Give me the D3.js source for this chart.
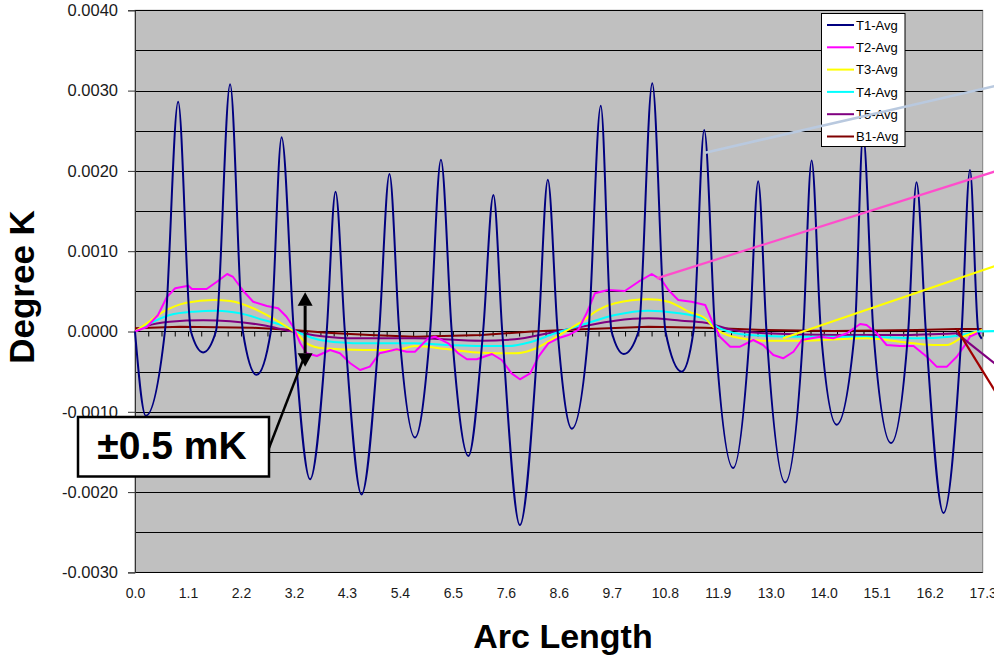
<!DOCTYPE html>
<html>
<head>
<meta charset="utf-8">
<script src="https://cdn.jsdelivr.net/npm/d3@7"></script>
<style>
  body { margin: 0; background: #fff; }
  svg { display: block; }
  text { font-family: Arial, "Liberation Sans", sans-serif; }
</style>
</head>
<body>
<div id="chart"></div>
<script>
// x axis category labels (arc length), one every 4 categories
const arcLabels = ["0.0","1.1","2.2","3.2","4.3","5.4","6.5","7.6","8.6","9.7","10.8","11.9","13.0","14.0","15.1","16.2","17.3"];
const arcStep = 1.0806;
const yTicks = [-0.003, -0.002, -0.001, 0, 0.001, 0.002, 0.003, 0.004];

const seriesNames = ["T1-Avg", "T2-Avg", "T3-Avg", "T4-Avg", "T5-Avg", "B1-Avg"];
const seriesColors = ["#000080", "#ff00ff", "#ffff00", "#00ffff", "#800080", "#800000"];

// T1 (read at peaks, troughs and zero crossings)
const t1Arc = [0.00,0.22,0.61,0.88,1.14,1.39,1.65,1.94,2.20,2.48,2.77,2.99,3.24,3.57,3.91,4.09,4.28,4.62,4.98,5.19,5.39,5.71,6.02,6.24,6.46,6.80,7.10,7.31,7.49,7.85,8.23,8.42,8.62,8.91,9.25,9.50,9.72,9.97,10.27,10.55,10.82,11.15,11.39,11.61,11.83,12.20,12.54,12.71,12.88,13.26,13.63,13.80,13.99,14.31,14.68,14.85,15.06,15.42,15.77,15.94,16.13,16.49,16.86,17.03,17.20,17.27];
const t1Val = [0,-0.00105,0,0.00286,0,-0.00026,0,0.00308,0,-0.00054,0,0.00242,0,-0.00184,0,0.00174,0,-0.00203,0,0.00196,0,-0.00132,0,0.00214,0,-0.00155,0,0.00170,0,-0.00241,0,0.00189,0,-0.00121,0,0.00281,0,-0.00028,0,0.00309,0,-0.00050,0,0.00251,0,-0.00170,0,0.00187,0,-0.00188,0,0.00213,0,-0.00116,0,0.00245,0,-0.00139,0,0.00186,0,-0.00226,0,0.00201,0,-0.00009];

const t2Arc = [0.00,0.24,0.47,0.65,0.82,1.09,1.16,1.46,1.67,1.88,2.00,2.21,2.41,2.69,2.92,3.09,3.23,3.37,3.50,3.71,3.98,4.18,4.39,4.59,4.79,4.99,5.34,5.54,5.71,5.98,6.12,6.39,6.59,6.77,6.97,7.28,7.48,7.68,7.85,8.06,8.23,8.43,8.63,8.84,9.04,9.21,9.38,9.65,9.99,10.27,10.54,10.74,10.88,11.08,11.35,11.63,11.79,11.93,12.14,12.34,12.61,12.81,13.02,13.22,13.43,13.60,13.97,14.24,14.52,14.79,14.92,15.13,15.33,15.60,15.88,16.15,16.35,16.56,16.76,16.93,17.03,17.19,17.27];
const t2Val = [0,0.000056,0.000205,0.00043,0.000538,0.00057,0.000529,0.000529,0.00062,0.000716,0.000679,0.000504,0.000371,0.000318,0.000289,0.000184,0.000056,-0.000147,-0.000271,-0.000305,-0.00023,-0.000271,-0.000396,-0.00048,-0.000438,-0.000271,-0.000222,-0.000252,-0.000252,-0.000085,-0.000065,-0.000147,-0.000271,-0.000346,-0.000346,-0.00028,-0.000355,-0.000521,-0.000595,-0.000521,-0.000314,-0.000147,-0.000085,-0.000044,0.000019,0.000227,0.000476,0.000517,0.000504,0.00062,0.000716,0.000641,0.000517,0.000392,0.000371,0.00033,0.000102,-0.000065,-0.000189,-0.000189,-0.000106,-0.000168,-0.000293,-0.000334,-0.000252,-0.000106,-0.000065,-0.000085,-0.000022,0.000093,0.000081,-0.000022,-0.000168,-0.000181,-0.000181,-0.000314,-0.000438,-0.000438,-0.000314,-0.000168,-0.000065,-0.000019,-0.00001];

const t3Arc = [0.00,0.24,0.58,1.05,1.60,1.94,2.41,2.75,3.09,3.30,3.50,3.84,4.66,5.34,5.71,6.39,7.07,7.75,8.09,8.43,8.77,9.11,9.45,9.79,10.47,10.88,11.29,11.63,11.79,12.20,12.88,13.56,14.92,15.60,16.28,16.56,16.89,17.17,17.28];
const t3Val = [0,0.000102,0.000247,0.000359,0.000392,0.00038,0.000289,0.000184,0.00006,-0.000022,-0.000147,-0.000209,-0.00023,-0.00023,-0.000181,-0.000222,-0.000264,-0.000271,-0.00023,-0.000127,-0.000002,0.000122,0.000268,0.000351,0.000401,0.000371,0.000247,0.000164,0.00006,-0.000065,-0.000115,-0.000115,-0.000085,-0.000127,-0.000168,-0.000168,-0.000065,-0.000002,0.00002];

const t4Arc = [0.00,0.24,0.71,1.19,1.67,2.14,2.62,3.09,3.37,3.77,4.45,5.71,6.38,7.07,7.61,8.09,8.57,9.11,9.79,10.47,11.01,11.63,11.93,12.54,13.56,14.92,15.94,16.62,17.17];
const t4Val = [0,0.000081,0.000205,0.000247,0.000259,0.000227,0.000143,0.00006,-0.000022,-0.000106,-0.000147,-0.000147,-0.000168,-0.000181,-0.000181,-0.000127,-0.000022,0.000081,0.000205,0.000259,0.000234,0.000152,0.00004,-0.000044,-0.000065,-0.000065,-0.000085,-0.000065,0];

const t5Arc = [0.00,0.24,0.71,1.39,1.94,2.62,3.16,3.77,4.45,5.71,7.07,7.75,8.43,9.11,9.79,10.47,11.15,11.63,12.20,12.88,14.24,15.60,16.76];
const t5Val = [0,0.000068,0.000122,0.000139,0.000127,0.000077,0.000006,-0.000056,-0.000085,-0.000085,-0.000115,-0.000097,-0.000022,0.00006,0.000134,0.000164,0.000134,0.00011,0.000019,-0.000022,-0.000044,-0.000044,-0.000022];

const b1Arc = [0.00,0.92,2.41,3.23,3.91,4.79,5.71,7.07,8.09,9.11,10.47,11.63,12.88,14.24,15.94,16.76,17.27];
const b1Val = [0.00004,0.00006,0.000047,0.000019,-0.000015,-0.000044,-0.000065,-0.000044,0,0.000027,0.00006,0.000047,0.000019,0.000006,0.000019,0.00003,0.00003];

// straight overflow lines that run off the right edge: [arcStart, valStart, arcEnd, valEnd]
const tailNames = ["blue", "T2", "T3", "T4", "T5", "B1"];
const tailColors = ["#b9c9df", "#ff4ccc", "#ffff00", "#00ffff", "#800080", "#a00000"];
const tailStart = [[11.63, 0.002227], [10.64, 0.000662], [13.22, -0.000085], [17.17, 0], [16.76, -0.000022], [16.76, 0.00003]];
const tailEnd = [[17.60, 0.003065], [17.60, 0.002005], [17.60, 0.000827], [17.60, 0.000006], [17.60, -0.00043], [17.60, -0.0008]];

const W = 994, H = 655;
const svg = d3.select("#chart").append("svg").attr("width", W).attr("height", H);

const x = d3.scaleLinear().domain([0, arcStep * 16]).range([135, 982.7]);
const y = d3.scaleLinear().domain([-0.003, 0.004]).range([572.4, 10.3]);

// plot area
svg.append("rect").attr("x", x(0)).attr("y", y(0.004))
  .attr("width", x(arcStep * 16) - x(0)).attr("height", y(-0.003) - y(0.004))
  .attr("fill", "#c0c0c0").attr("stroke", "#808080").attr("stroke-width", 1);

// gridlines every 0.0005
svg.append("g").selectAll("line").data(d3.range(-6, 9).map(k => k * 0.0005)).join("line")
  .attr("x1", x(0)).attr("x2", x(arcStep * 16))
  .attr("y1", d => Math.round(y(d)) + 0.5).attr("y2", d => Math.round(y(d)) + 0.5)
  .attr("stroke", "#000").attr("stroke-width", 1);

// y axis
const yAxis = svg.append("g").attr("transform", `translate(${x(0)},0)`)
  .call(d3.axisLeft(y).tickValues(yTicks).tickFormat(d => d.toFixed(4)).tickSize(7).tickPadding(10));
yAxis.select(".domain").attr("stroke", "#333");
yAxis.selectAll(".tick line").attr("stroke", "#333");
yAxis.selectAll("text").attr("font-size", 16.5).attr("fill", "#1a1a1a")
  .style("font-family", "Arial, 'Liberation Sans', sans-serif");

// category ticks along the zero line
const xTickAxis = svg.append("g").attr("transform", `translate(0,${Math.round(y(0)) + 0.5})`)
  .call(d3.axisBottom(x).tickValues(d3.range(0, 65).map(k => k * arcStep / 4)).tickFormat("").tickSize(5));
xTickAxis.select(".domain").remove();
xTickAxis.selectAll(".tick line").attr("stroke", "#000");

// x labels at the bottom
const xLab = svg.append("g").attr("transform", `translate(0,${y(-0.003)})`)
  .call(d3.axisBottom(x).tickValues(arcLabels.map((d, i) => i * arcStep)).tickFormat((d, i) => arcLabels[i]).tickSize(0).tickPadding(15.5));
xLab.select(".domain").remove();
xLab.selectAll("text").attr("font-size", 14).attr("fill", "#1a1a1a")
  .style("font-family", "Arial, 'Liberation Sans', sans-serif");

// series
const series = [
  { arc: t1Arc, val: t1Val, curve: d3.curveMonotoneX },
  { arc: t2Arc, val: t2Val, curve: d3.curveLinear },
  { arc: t3Arc, val: t3Val, curve: d3.curveMonotoneX },
  { arc: t4Arc, val: t4Val, curve: d3.curveMonotoneX },
  { arc: t5Arc, val: t5Val, curve: d3.curveMonotoneX },
  { arc: b1Arc, val: b1Val, curve: d3.curveLinear }
];
const gLines = svg.append("g");
series.slice().reverse().forEach((s, ri) => {
  const i = series.length - 1 - ri;
  const line = d3.line().x(d => x(d[0])).y(d => y(d[1])).curve(s.curve);
  gLines.append("path").datum(s.arc.map((a, k) => [a, s.val[k]]))
    .attr("d", line).attr("fill", "none")
    .attr("stroke", seriesColors[i]).attr("stroke-width", 2).attr("stroke-linejoin", "round");
});

// legend
const lg = svg.append("g");
lg.append("rect").attr("x", 821.5).attr("y", 13.5).attr("width", 83.5).attr("height", 133)
  .attr("fill", "#fff").attr("stroke", "#000").attr("stroke-width", 1);
seriesNames.forEach((n, i) => {
  const yy = 25 + i * 22.3;
  lg.append("line").attr("x1", 827).attr("x2", 854).attr("y1", yy).attr("y2", yy)
    .attr("stroke", seriesColors[i]).attr("stroke-width", 2);
  lg.append("text").attr("x", 856).attr("y", yy).attr("dy", "0.36em")
    .attr("font-size", 13).attr("fill", "#000").text(n);
});

// overflow lines drawn on top
tailNames.forEach((n, i) => {
  svg.append("line")
    .attr("x1", x(tailStart[i][0])).attr("y1", y(tailStart[i][1]))
    .attr("x2", x(tailEnd[i][0])).attr("y2", y(tailEnd[i][1]))
    .attr("stroke", tailColors[i]).attr("stroke-width", i === 0 ? 2.5 : 2.2);
});

// +/-0.5 mK annotation
const ax = x(3.47);
svg.append("line").attr("x1", ax).attr("x2", ax).attr("y1", y(0.00032)).attr("y2", y(-0.00027))
  .attr("stroke", "#000").attr("stroke-width", 3);
svg.append("path").attr("d", `M${ax},${y(0.00049)} L${ax - 7.5},${y(0.00032)} L${ax + 7.5},${y(0.00032)} Z`).attr("fill", "#000");
svg.append("path").attr("d", `M${ax},${y(-0.00044)} L${ax - 7.5},${y(-0.00027)} L${ax + 7.5},${y(-0.00027)} Z`).attr("fill", "#000");
svg.append("line").attr("x1", 269).attr("y1", 448).attr("x2", ax - 2).attr("y2", y(-0.00035))
  .attr("stroke", "#000").attr("stroke-width", 2.5);
svg.append("rect").attr("x", 78).attr("y", 417).attr("width", 191).attr("height", 59.5)
  .attr("fill", "#fff").attr("stroke", "#000").attr("stroke-width", 2.5);
svg.append("text").attr("x", 172).attr("y", 459).attr("text-anchor", "middle")
  .attr("font-size", 39).attr("font-weight", "bold").attr("fill", "#000").text("±0.5 mK");

// axis titles
svg.append("text").attr("x", 563).attr("y", 648).attr("text-anchor", "middle")
  .attr("font-size", 34).attr("font-weight", "bold").attr("fill", "#000").text("Arc Length");
svg.append("text").attr("transform", "translate(34,287) rotate(-90)").attr("text-anchor", "middle")
  .attr("font-size", 35).attr("font-weight", "bold").attr("fill", "#000").text("Degree K");
</script>
</body>
</html>
